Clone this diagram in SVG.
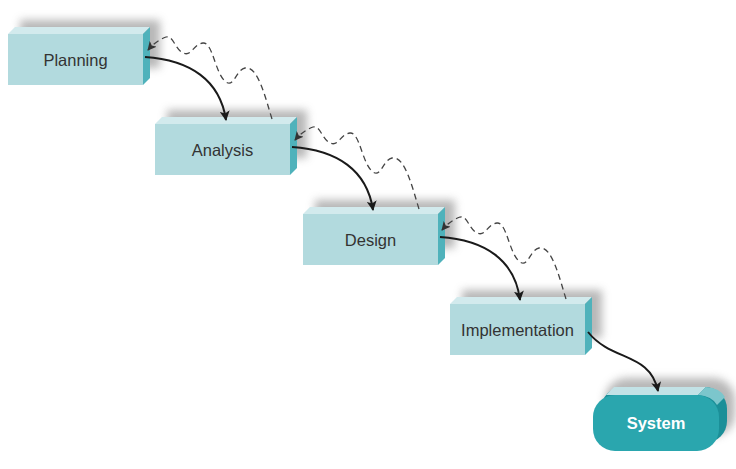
<svg xmlns="http://www.w3.org/2000/svg" xmlns:xlink="http://www.w3.org/1999/xlink" width="736" height="469" viewBox="0 0 736 469">
<style>
.front{fill:#b2dade}
.top{fill:#d2eaed}
.side{fill:#4fb2bb}
.lbl{font-family:"Liberation Sans",Arial,sans-serif;font-size:16.5px;fill:#333;text-anchor:middle}
.sys{font-family:"Liberation Sans",Arial,sans-serif;font-size:16.5px;font-weight:bold;fill:#fff;text-anchor:middle}
.solid{fill:none;stroke:#1a1a1a;stroke-width:2}
.dash{fill:none;stroke:#444;stroke-width:1.3;stroke-dasharray:6 4}
</style>
<defs>
<filter id="blur" x="-20%" y="-40%" width="140%" height="180%"><feGaussianBlur stdDeviation="4"/></filter>
<marker id="ah" viewBox="0 0 10 10" refX="9" refY="5" markerWidth="10" markerHeight="10" markerUnits="userSpaceOnUse" orient="auto"><path d="M0,0 L10,5 L0,10 L2.5,5 z" fill="#1a1a1a"/></marker>
<marker id="dh" viewBox="0 0 10 10" refX="9" refY="5" markerWidth="9" markerHeight="9" markerUnits="userSpaceOnUse" orient="auto"><path d="M0,0 L10,5 L0,10 L2.5,5 z" fill="#333"/></marker>
<g id="box">
<rect x="12" y="-14" width="140" height="48" fill="#9a9a9a" opacity="0.7" filter="url(#blur)"/>
<polygon class="top" points="0,0 7,-7 142,-7 135,0"/>
<polygon class="side" points="135,0 142,-7 142,44 135,51"/>
<rect class="front" x="0" y="0" width="135" height="51"/>
</g>
</defs>
<g id="planning" transform="translate(8,34)"><use xlink:href="#box"/><text class="lbl" x="67.5" y="31.5">Planning</text></g>
<g id="analysis" transform="translate(155,124)"><use xlink:href="#box"/><text class="lbl" x="67.5" y="31.5">Analysis</text></g>
<g id="design" transform="translate(303,214)"><use xlink:href="#box"/><text class="lbl" x="67.5" y="31.5">Design</text></g>
<g id="implementation" transform="translate(450,304)"><use xlink:href="#box"/><text class="lbl" x="67.5" y="31.5">Implementation</text></g>
<g id="system">
<rect x="605" y="378" width="130" height="58" rx="22" fill="#9a9a9a" opacity="0.7" filter="url(#blur)"/>
<rect x="601" y="387" width="126" height="56" rx="22" fill="#1b8f98"/>
<polygon points="606,395 614,387 706,387 698,395" fill="#c2e2e6"/>
<path d="M698,395 L706,387 Q720,388 725,397 L717,405 Q712,396 698,395 Z" fill="#7cc6cc"/>
<rect x="593" y="395" width="126" height="56" rx="22" fill="#2aa6ae"/>
<text class="sys" x="656" y="429">System</text>
</g>
<g id="connectors">
<path class="solid" marker-end="url(#ah)" d="M145,57 C190,60 220,80 226,120"/>
<path class="solid" marker-end="url(#ah)" d="M292,147 C337,150 367,170 373,210"/>
<path class="solid" marker-end="url(#ah)" d="M440,237 C485,240 515,260 520,300"/>
<path class="solid" marker-end="url(#ah)" d="M588,332 C612,362 650,352 658,391"/>
<g id="feedback">
<path class="dash" marker-end="url(#dh)" d="M272,119 C266,100 258,65 245,68 C236,70 234,88 226,82 C215,74 213,42 203,43 C193,44 192,57 183,53 C175,49 173,35 166,37 C160,39 153,44 148,50"/>
<path class="dash" marker-end="url(#dh)" transform="translate(147,90)" d="M272,119 C266,100 258,65 245,68 C236,70 234,88 226,82 C215,74 213,42 203,43 C193,44 192,57 183,53 C175,49 173,35 166,37 C160,39 153,44 148,50"/>
<path class="dash" marker-end="url(#dh)" transform="translate(294,180)" d="M272,119 C266,100 258,65 245,68 C236,70 234,88 226,82 C215,74 213,42 203,43 C193,44 192,57 183,53 C175,49 173,35 166,37 C160,39 153,44 148,50"/>
</g>
</g>
</svg>
